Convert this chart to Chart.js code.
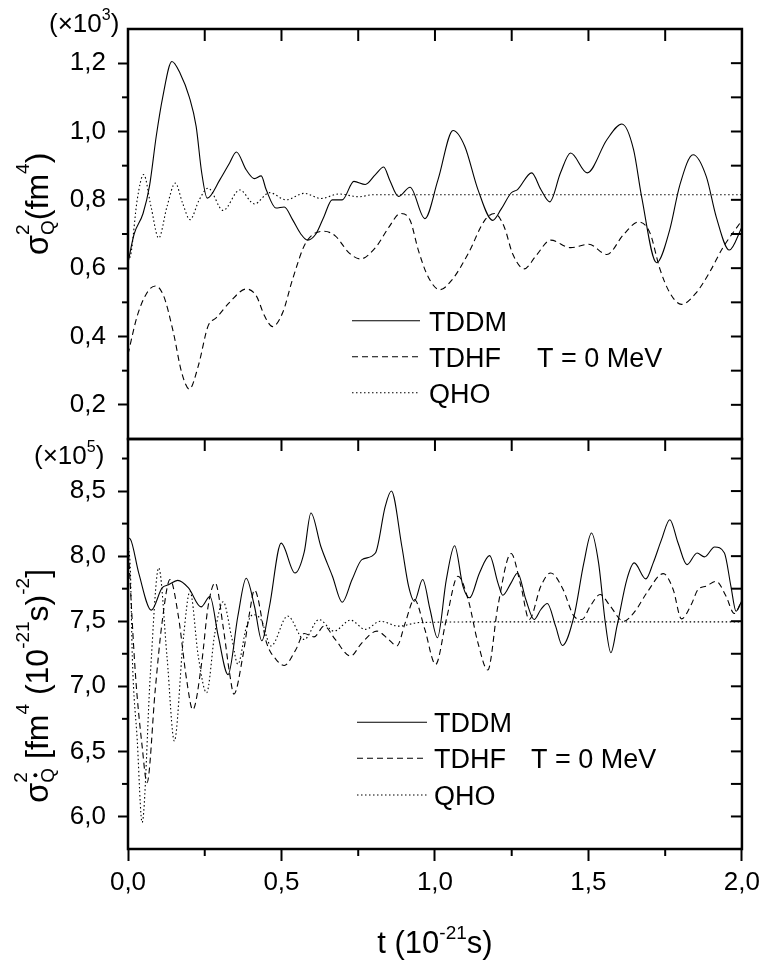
<!DOCTYPE html>
<html lang="en">
<head>
  <meta charset="UTF-8">
  <title>sigma_Q^2 vs t</title>
  <script src="https://cdn.jsdelivr.net/npm/chart.js"></script>
  <style>
    html, body { margin: 0; padding: 0; background: #fff; }
    canvas { display: block; }
  </style>
</head>
<body>
  <canvas id="chart" width="766" height="966"></canvas>
  <script>
    // time axis, in 10^-21 s
    const xTicks = [0, 0.5, 1.0, 1.5, 2.0];
    const xMinorTicks = [0.25, 0.75, 1.25, 1.75];

    // upper panel: sigma_Q^2 (x10^3 fm^4)
    const topTicks = [0.2, 0.4, 0.6, 0.8, 1.0, 1.2];
    const topMinorTicks = [0.3, 0.5, 0.7, 0.9, 1.1];
    // lower panel: sigma_Qdot^2 (x10^5 fm^4 (10^-21 s)^-2)
    const botTicks = [6.0, 6.5, 7.0, 7.5, 8.0, 8.5];
    const botMinorTicks = [6.25, 6.75, 7.25, 7.75, 8.25, 8.75];

    const seriesNames = ['TDDM', 'TDHF', 'QHO'];
    const tempLabel = 'T = 0 MeV';

    // [t, value]
    const tddmTop = [[0,0.616],[0.02,0.70],[0.049,0.76],[0.07,0.84],[0.092,0.986],[0.113,1.10],[0.143,1.205],
      [0.17,1.17],[0.2,1.10],[0.222,1.015],[0.24,0.88],[0.258,0.805],[0.3,0.86],[0.331,0.908],[0.353,0.94],
      [0.385,0.888],[0.412,0.862],[0.434,0.87],[0.45,0.83],[0.482,0.776],[0.509,0.779],[0.536,0.742],[0.563,0.70],
      [0.585,0.682],[0.612,0.70],[0.638,0.75],[0.665,0.80],[0.698,0.80],[0.736,0.854],[0.773,0.845],[0.806,0.874],
      [0.833,0.896],[0.852,0.859],[0.881,0.81],[0.919,0.837],[0.967,0.745],[1.01,0.859],[1.059,1.003],[1.097,0.957],
      [1.14,0.83],[1.188,0.74],[1.215,0.772],[1.248,0.82],[1.269,0.83],[1.315,0.879],[1.345,0.83],[1.374,0.794],
      [1.409,0.879],[1.442,0.937],[1.496,0.879],[1.56,0.976],[1.609,1.022],[1.647,0.947],[1.673,0.81],[1.722,0.616],
      [1.765,0.713],[1.797,0.841],[1.841,0.932],[1.884,0.868],[1.916,0.751],[1.959,0.653],[2.0,0.72]];
    const tdhfTop = [[0,0.348],[0.03,0.46],[0.062,0.528],[0.089,0.548],[0.116,0.519],[0.148,0.411],[0.175,0.294],
      [0.2,0.246],[0.229,0.314],[0.261,0.431],[0.288,0.455],[0.331,0.5],[0.385,0.539],[0.418,0.519],[0.445,0.46],
      [0.471,0.429],[0.504,0.47],[0.536,0.567],[0.579,0.674],[0.639,0.708],[0.676,0.694],[0.72,0.645],[0.757,0.627],
      [0.806,0.66],[0.85,0.72],[0.887,0.76],[0.919,0.74],[0.946,0.652],[0.978,0.574],[1.016,0.537],[1.054,0.564],
      [1.108,0.642],[1.162,0.74],[1.194,0.76],[1.226,0.72],[1.253,0.642],[1.291,0.598],[1.328,0.635],[1.377,0.682],
      [1.442,0.66],[1.501,0.67],[1.56,0.64],[1.614,0.698],[1.663,0.735],[1.7,0.704],[1.733,0.597],[1.765,0.528],
      [1.803,0.494],[1.851,0.528],[1.894,0.587],[1.938,0.66],[2.0,0.74]];
    const qhoTop = [[0,0.62],[0.01,0.645],[0.03,0.80],[0.051,0.874],[0.075,0.78],[0.1,0.688],[0.127,0.78],
      [0.154,0.849],[0.178,0.79],[0.202,0.742],[0.232,0.80],[0.261,0.834],[0.31,0.769],[0.364,0.829],[0.412,0.788],
      [0.461,0.821],[0.515,0.8],[0.574,0.819],[0.628,0.804],[0.687,0.817],[0.752,0.809],[0.8,0.815],[1.0,0.815],
      [1.5,0.815],[2.0,0.815]];

    const tddmBot = [[0,8.14],[0.008,8.13],[0.035,7.87],[0.076,7.585],[0.111,7.756],[0.132,7.78],[0.162,7.814],
      [0.197,7.756],[0.238,7.61],[0.267,7.69],[0.294,7.385],[0.326,7.09],[0.358,7.54],[0.385,7.83],[0.412,7.615],
      [0.436,7.35],[0.461,7.615],[0.499,8.1],[0.544,7.87],[0.574,8.03],[0.596,8.331],[0.628,8.076],[0.666,7.846],
      [0.698,7.646],[0.73,7.82],[0.762,7.973],[0.806,8.024],[0.838,8.382],[0.858,8.5],[0.892,8.076],[0.914,7.77],
      [0.933,7.654],[0.96,7.82],[0.984,7.59],[1.008,7.373],[1.037,7.82],[1.064,8.08],[1.091,7.77],[1.113,7.68],
      [1.145,7.871],[1.178,8.004],[1.205,7.795],[1.221,7.7],[1.248,7.795],[1.269,7.871],[1.296,7.667],[1.323,7.513],
      [1.345,7.59],[1.366,7.636],[1.393,7.462],[1.415,7.314],[1.453,7.539],[1.485,7.948],[1.51,8.178],[1.533,7.948],
      [1.555,7.488],[1.573,7.258],[1.593,7.462],[1.625,7.82],[1.649,7.948],[1.687,7.825],[1.711,7.948],[1.738,8.127],
      [1.765,8.28],[1.792,8.101],[1.821,7.935],[1.854,8.024],[1.878,7.994],[1.911,8.07],[1.943,8.024],[1.964,7.77],
      [1.981,7.577],[2.0,7.66]];
    const tdhfBot = [[0,8.1],[0.024,7.1],[0.046,6.54],[0.062,6.26],[0.089,6.98],[0.111,7.49],[0.137,7.82],
      [0.164,7.54],[0.191,7.05],[0.211,6.82],[0.24,7.18],[0.261,7.615],[0.284,7.795],[0.311,7.44],[0.331,7.1],
      [0.345,6.94],[0.374,7.23],[0.396,7.565],[0.412,7.74],[0.452,7.33],[0.482,7.207],[0.509,7.16],[0.547,7.283],
      [0.574,7.406],[0.606,7.38],[0.639,7.462],[0.675,7.36],[0.725,7.232],[0.762,7.334],[0.811,7.424],[0.849,7.36],
      [0.876,7.31],[0.903,7.487],[0.933,7.667],[0.967,7.437],[1.002,7.168],[1.037,7.513],[1.075,7.846],[1.108,7.667],
      [1.14,7.334],[1.172,7.125],[1.205,7.616],[1.248,8.02],[1.28,7.77],[1.307,7.513],[1.345,7.77],[1.377,7.871],
      [1.415,7.756],[1.453,7.539],[1.479,7.513],[1.506,7.616],[1.538,7.705],[1.571,7.616],[1.614,7.5],[1.652,7.577],
      [1.69,7.718],[1.744,7.866],[1.776,7.744],[1.803,7.518],[1.835,7.628],[1.857,7.744],[1.884,7.77],[1.916,7.807],
      [1.948,7.693],[1.975,7.559],[2.0,7.66]];
    const qhoBot = [[0,8.1],[0.008,7.87],[0.014,7.23],[0.03,6.59],[0.046,5.954],[0.073,7.1],[0.1,7.91],[0.127,7.23],
      [0.151,6.58],[0.18,7.36],[0.202,7.73],[0.229,7.23],[0.256,6.95],[0.283,7.41],[0.31,7.65],[0.337,7.385],
      [0.358,7.17],[0.385,7.45],[0.407,7.55],[0.434,7.51],[0.466,7.31],[0.52,7.54],[0.574,7.36],[0.622,7.513],
      [0.671,7.424],[0.725,7.508],[0.773,7.437],[0.822,7.5],[0.881,7.462],[0.95,7.49],[1.2,7.495],[2.0,7.495]];

    const FONT = '"Liberation Sans", Arial, sans-serif';
    const dashes = { TDDM: [], TDHF: [6, 4], QHO: [1.5, 2.5] };
    const fmt = v => Number(v).toFixed(1).replace('.', ',');
    const toXY = pairs => pairs.map(([x, y]) => ({ x, y }));

    function line(name, pairs, axis) {
      return {
        label: name,
        data: toXY(pairs),
        yAxisID: axis,
        borderColor: '#000',
        borderWidth: 1.1,
        borderDash: dashes[name],
        pointRadius: 0,
        fill: false,
        cubicInterpolationMode: 'monotone'
      };
    }

    // draws text with sub/superscripts; parts: {t, s, dy, keep, dot}
    function rich(ctx, parts, x, y, draw) {
      let cx = x, pending = 0;
      for (const p of parts) {
        ctx.font = p.s + 'px ' + FONT;
        const w = ctx.measureText(p.t).width;
        if (draw) {
          ctx.fillText(p.t, cx, y + (p.dy || 0));
          if (p.dot) {
            ctx.beginPath();
            ctx.arc(cx + w / 2, y + (p.dy || 0) - p.s * 0.98, 2, 0, Math.PI * 2);
            ctx.fill();
          }
        }
        if (p.keep) pending = Math.max(pending, w);
        else { cx += Math.max(w, pending); pending = 0; }
      }
      return cx - x;
    }

    function vTitle(ctx, parts, bx, cy) {
      ctx.save();
      ctx.translate(bx, cy);
      ctx.rotate(-Math.PI / 2);
      const w = rich(ctx, parts, 0, 0, false);
      rich(ctx, parts, -w / 2, 0, true);
      ctx.restore();
    }

    const topTitle = [{ t: 'σ', s: 33 }, { t: 'Q', s: 19, dy: 6, keep: true }, { t: '2', s: 19, dy: -19 },
      { t: '(fm', s: 32 }, { t: '4', s: 19, dy: -19 }, { t: ')', s: 32 }];
    const botTitle = [{ t: 'σ', s: 33 }, { t: 'Q', s: 19, dy: 6, keep: true, dot: true }, { t: '2', s: 19, dy: -21 },
      { t: ' [fm', s: 32 }, { t: '4', s: 19, dy: -19 }, { t: ' (10', s: 32 }, { t: '-21', s: 19, dy: -19 },
      { t: 's)', s: 32 }, { t: '-2', s: 19, dy: -19 }, { t: ']', s: 32 }];

    const panels = [
      { axis: 'yTop', minor: topMinorTicks, right: topTicks.concat(topMinorTicks),
        exp: '3', expX: 49, expY: 32, title: topTitle, titleY: 204,
        leg: { x0: 352, x1: 420, tx: 429, rows: [320.7, 356.7, 392.7], tempX: 537 } },
      { axis: 'yBot', minor: botMinorTicks, right: botTicks.concat(botMinorTicks),
        exp: '5', expX: 34, expY: 464, title: botTitle, titleY: 686,
        leg: { x0: 357, x1: 427, tx: 434, rows: [722.3, 758.3, 795], tempX: 531 } }
    ];

    function seg(ctx, x0, y0, x1, y1) {
      ctx.beginPath();
      ctx.moveTo(x0, y0);
      ctx.lineTo(x1, y1);
      ctx.stroke();
    }

    const framePlugin = {
      id: 'frame',
      afterDraw(chart) {
        const ctx = chart.ctx;
        const xs = chart.scales.x;
        ctx.save();
        ctx.strokeStyle = '#000';
        ctx.fillStyle = '#000';
        ctx.textBaseline = 'alphabetic';

        panels.forEach(p => {
          const ys = chart.scales[p.axis];
          ctx.lineWidth = 2;
          ctx.setLineDash([]);
          p.minor.forEach(v => { const y = ys.getPixelForValue(v); seg(ctx, xs.left - 6, y, xs.left, y); });
          p.right.forEach(v => { const y = ys.getPixelForValue(v); seg(ctx, xs.right - 11, y, xs.right, y); });
          xTicks.concat(xMinorTicks).forEach(v => {
            if (v <= xs.min || v >= xs.max) return;
            const x = xs.getPixelForValue(v);
            seg(ctx, x, ys.top, x, ys.top + 12);
          });
          ctx.lineWidth = 2.5;
          ctx.strokeRect(xs.left, ys.top, xs.right - xs.left, ys.bottom - ys.top);

          // scale factor label and axis title
          ctx.textAlign = 'left';
          rich(ctx, [{ t: '(×10', s: 26 }, { t: p.exp, s: 16, dy: -12 }, { t: ')', s: 26 }], p.expX, p.expY, true);
          vTitle(ctx, p.title, 48, p.titleY);

          // legend
          const sets = chart.data.datasets.filter(d => d.yAxisID === p.axis);
          sets.forEach((d, i) => {
            const y = p.leg.rows[i];
            ctx.lineWidth = d.borderWidth;
            ctx.setLineDash(d.borderDash);
            seg(ctx, p.leg.x0, y, p.leg.x1, y);
            ctx.setLineDash([]);
            ctx.font = '27px ' + FONT;
            ctx.fillText(d.label, p.leg.tx, y + 10);
          });
          ctx.fillText(tempLabel, p.leg.tempX, p.leg.rows[1] + 10);
        });

        ctx.lineWidth = 2;
        xMinorTicks.forEach(v => { const x = xs.getPixelForValue(v); seg(ctx, x, xs.top, x, xs.top + 7); });

        // x axis title
        const xt = [{ t: 't (10', s: 31 }, { t: '-21', s: 19, dy: -14 }, { t: 's)', s: 31 }];
        const w = rich(ctx, xt, 0, 0, false);
        rich(ctx, xt, (xs.left + xs.right) / 2 - w / 2, 953, true);
        ctx.restore();
      }
    };

    const yCommon = (min, max, ticks) => ({
      type: 'linear',
      position: 'left',
      stack: 'panels',
      stackWeight: 1,
      min: min,
      max: max,
      afterBuildTicks: s => { s.ticks = ticks.map(v => ({ value: v })); },
      afterFit: s => { s.width = 128; },
      border: { display: false },
      grid: { drawOnChartArea: false, drawTicks: true, tickLength: 10, tickWidth: 2, tickColor: '#000' },
      ticks: { color: '#000', padding: 12, font: { family: FONT, size: 26 }, callback: v => fmt(v) }
    });

    new Chart(document.getElementById('chart'), {
      type: 'line',
      data: {
        datasets: [
          line(seriesNames[0], tddmTop, 'yTop'),
          line(seriesNames[1], tdhfTop, 'yTop'),
          line(seriesNames[2], qhoTop, 'yTop'),
          line(seriesNames[0], tddmBot, 'yBot'),
          line(seriesNames[1], tdhfBot, 'yBot'),
          line(seriesNames[2], qhoBot, 'yBot')
        ]
      },
      options: {
        responsive: false,
        devicePixelRatio: 1,
        animation: false,
        layout: { padding: { left: 0, right: 20, top: 29, bottom: 0 } },
        plugins: { legend: { display: false }, tooltip: { enabled: false } },
        scales: {
          x: {
            type: 'linear',
            min: 0,
            max: 2,
            afterBuildTicks: s => { s.ticks = xTicks.map(v => ({ value: v })); },
            afterFit: s => { s.height = 117; },
            border: { display: false },
            grid: { drawOnChartArea: false, drawTicks: true, tickLength: 12, tickWidth: 2, tickColor: '#000' },
            ticks: { color: '#000', padding: 6, maxRotation: 0, font: { family: FONT, size: 26 }, callback: v => fmt(v) }
          },
          yTop: Object.assign(yCommon(0.1, 1.3, topTicks), { weight: 1 }),
          yBot: Object.assign(yCommon(5.75, 8.9, botTicks), { weight: 0 })
        }
      },
      plugins: [framePlugin]
    });
  </script>
</body>
</html>
